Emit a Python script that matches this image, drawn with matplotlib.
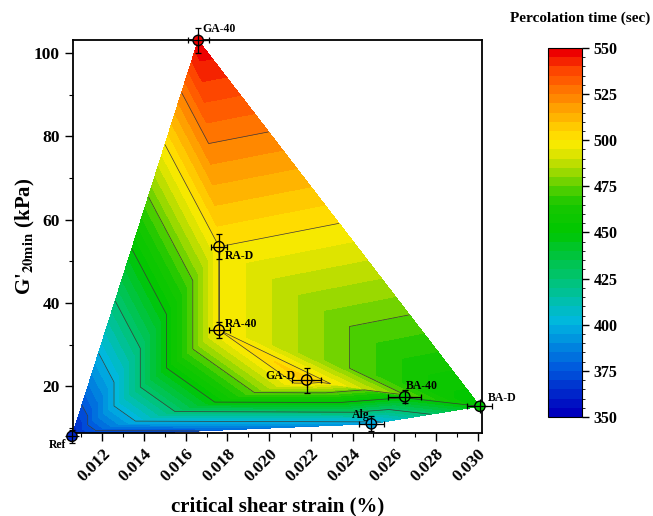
import numpy as np
import matplotlib
matplotlib.use('Agg')
import matplotlib.pyplot as plt
import matplotlib.tri as mtri
from matplotlib.colors import LinearSegmentedColormap, BoundaryNorm

plt.rcParams['font.family'] = 'Liberation Serif'
plt.rcParams['font.weight'] = 'bold'
plt.rcParams['mathtext.fontset'] = 'stix'

# sample data
names = ['Ref', 'GA-40', 'RA-D', 'RA-40', 'GA-D', 'BA-40', 'BA-D', 'Alg']
strain = [0.01055, 0.0166, 0.0176, 0.0176, 0.0218, 0.0265, 0.0301, 0.0249]
gmod = [8.0, 103.0, 53.5, 33.5, 21.5, 17.5, 15.2, 11.0]
perc = [360, 550, 500, 500, 508, 452, 450, 395]
strain_err = [0.0002, 0.0005, 0.0004, 0.0005, 0.0007, 0.0008, 0.0006, 0.0006]
gmod_err = [1.5, 3.0, 3.0, 2.0, 3.0, 1.5, 1.0, 1.8]

# triangle connectivity (indices into the lists above)
tri_idx = [[0, 1, 2], [1, 2, 6], [0, 2, 3], [2, 3, 6], [3, 4, 6],
           [0, 3, 4], [0, 4, 7], [4, 5, 7], [4, 5, 6], [5, 6, 7]]

x = np.array(strain)
y = np.array(gmod)
z = np.array(perc)

# colormap like the origin rainbow
cmap = LinearSegmentedColormap.from_list('perc', [
    (0.00, (0.00, 0.00, 0.74)),
    (0.125, (0.00, 0.36, 0.87)),
    (0.25, (0.00, 0.72, 0.88)),
    (0.31, (0.00, 0.75, 0.67)),
    (0.375, (0.00, 0.77, 0.43)),
    (0.44, (0.00, 0.77, 0.22)),
    (0.50, (0.00, 0.78, 0.00)),
    (0.58, (0.10, 0.78, 0.00)),
    (0.64, (0.45, 0.83, 0.00)),
    (0.70, (0.80, 0.88, 0.00)),
    (0.75, (1.00, 0.92, 0.00)),
    (0.81, (1.00, 0.74, 0.00)),
    (0.875, (1.00, 0.52, 0.00)),
    (0.94, (1.00, 0.30, 0.00)),
    (1.00, (0.93, 0.00, 0.00)),
])
levels = np.arange(350, 555, 5)
norm = BoundaryNorm(levels, cmap.N)

tri = mtri.Triangulation(x, y, tri_idx)

fig = plt.figure(figsize=(6.53, 5.16), dpi=100)
ax = fig.add_axes([0.1118, 0.1609, 0.6263, 0.7616])

cf = ax.tricontourf(tri, z, levels=levels, cmap=cmap, norm=norm)
ax.tricontour(tri, z, levels=[375, 400, 425, 450, 475, 500, 525],
              colors='#3a3a3a', linewidths=0.5)

ax.errorbar(x, y, xerr=strain_err, yerr=gmod_err, fmt='none', ecolor='black',
            elinewidth=0.9, capsize=2.5, capthick=0.9, clip_on=False, zorder=4)
ax.scatter(x, y, c=z, cmap=cmap, norm=norm, s=55, edgecolors='black',
           linewidths=1.0, clip_on=False, zorder=5)
ax.scatter(x, y, marker='+', c='black', s=90, linewidths=0.9,
           clip_on=False, zorder=6)

offsets = {'Ref': (-4, -6, 'right'), 'GA-40': (3, 8, 'left'), 'RA-D': (4, -7, 'left'),
           'RA-40': (4, 4, 'left'), 'GA-D': (-8, 3, 'right'), 'BA-40': (1, 8, 'left'),
           'BA-D': (6, 6, 'left'), 'Alg': (-1, 6, 'right')}
for n, xi, yi in zip(names, x, y):
    dx, dy, ha = offsets[n]
    ax.annotate(n, (xi, yi), xytext=(dx, dy), textcoords='offset points',
                ha=ha, va='center', fontsize=8.5, fontweight='bold', zorder=7,
                annotation_clip=False)

ax.set_xlim(0.0106, 0.0302)
ax.set_ylim(8.8, 103.1)
ax.set_xticks(np.arange(0.012, 0.0305, 0.002))
ax.set_xticks(np.arange(0.011, 0.0305, 0.001), minor=True)
ax.set_yticks([20, 40, 60, 80, 100])
ax.set_yticks(np.arange(10, 101, 10), minor=True)
ax.set_xticklabels(['%.3f' % v for v in np.arange(0.012, 0.0305, 0.002)],
                   rotation=45, ha='right', rotation_mode='anchor')
ax.tick_params(which='major', length=6, width=1.0, labelsize=12.5)
ax.tick_params(which='minor', length=3, width=0.8)
for s in ax.spines.values():
    s.set_linewidth(1.3)

ax.set_xlabel('critical shear strain (%)', fontsize=15, fontweight='bold', labelpad=8)
ax.set_ylabel(r"G'$_{\mathbf{20min}}$ (kPa)", fontsize=15, fontweight='bold', labelpad=-2)

cax = fig.add_axes([548 / 653, 99 / 516, 34 / 653, 369 / 516])
cb = fig.colorbar(cf, cax=cax, ticks=np.arange(350, 551, 25))
cb.ax.tick_params(labelsize=11.5, length=5, width=1.0)
cb.outline.set_linewidth(0.8)
fig.text(0.888, 0.965, 'Percolation time (sec)', ha='center', va='center',
         fontsize=11, fontweight='bold')

plt.savefig('out.png', dpi=100)
